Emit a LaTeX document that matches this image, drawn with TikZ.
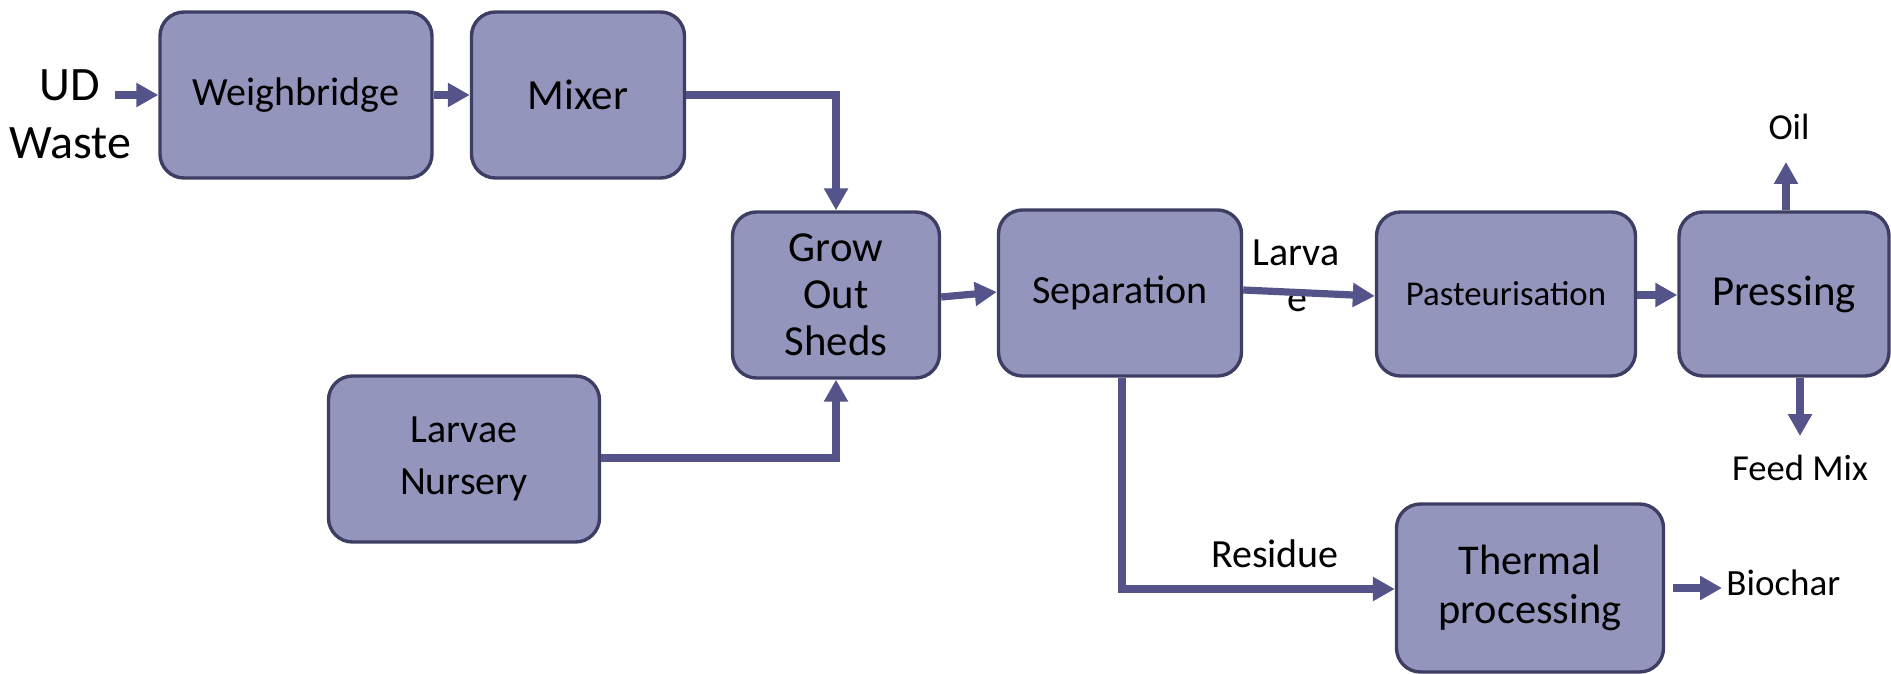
\documentclass[tikz,border=0pt]{standalone}
\usepackage{fontspec}
\setmainfont{Carlito}
\usetikzlibrary{arrows.meta}
\definecolor{boxfill}{RGB}{148,149,189}
\definecolor{boxline}{RGB}{62,62,100}
\definecolor{arrowcol}{RGB}{84,84,138}
\tikzset{
  procbox/.style={draw=boxline, fill=boxfill, line width=1.7pt, rounded corners=12pt,
    inner sep=0pt, align=center, font=\fontsize{20}{24}\selectfont},
  flow/.style={draw=arrowcol, line width=3.6pt, -{Triangle[length=11pt,width=11.5pt]}},
  lbl/.style={inner sep=0pt, align=center, font=\fontsize{18.3}{22}\selectfont}
}
\begin{document}
\begin{tikzpicture}[x=0.5pt,y=-0.5pt]
\useasboundingbox (0,0) rectangle (1891,674);
% boxes
\node[procbox, minimum width=136pt, minimum height=83pt] (wb) at (296,95) {Weighbridge};
\node[procbox, minimum width=106.5pt, minimum height=83pt, font=\fontsize{21.5}{24}\selectfont] (mix) at (578,95) {Mixer};
\node[procbox, minimum width=103.5pt, minimum height=83pt, font=\fontsize{21.4}{23.5}\selectfont] (grow) at (836,295) {Grow\\Out\\Sheds};
\node[procbox, minimum width=135.5pt, minimum height=83pt, font=\fontsize{20}{26}\selectfont] (nur) at (464,459) {Larvae\\Nursery};
\node[procbox, minimum width=121.5pt, minimum height=83pt] (sep) at (1120,293) {Separation};
\node[procbox, minimum width=129.5pt, minimum height=82pt, font=\fontsize{17.4}{20}\selectfont] (past) at (1506,294) {Pasteurisation};
\node[procbox, minimum width=105pt, minimum height=82pt, font=\fontsize{21.4}{24}\selectfont] (press) at (1784,294) {Pressing};
\node[procbox, minimum width=133.5pt, minimum height=84pt, font=\fontsize{21.2}{24.5}\selectfont] (therm) at (1530,588) {Thermal\\processing};
% free labels
\node[lbl, font=\fontsize{24}{29}\selectfont] (ud) at (70,114) {UD\\Waste};
\node[lbl] (oil) at (1789,127) {Oil};
\node[lbl] (feed) at (1800,468) {Feed Mix};
\node[lbl, anchor=west, font=\fontsize{18.5}{22}\selectfont] (bio) at (1726,583) {Biochar};
\node[lbl, font=\fontsize{20}{23}\selectfont] (larva) at (1296,276) {Larva\\\hspace*{1pt}e};
\node[lbl, font=\fontsize{20}{24}\selectfont] (res) at (1275,554) {Residue};
% connectors
\coordinate (udend) at (115,95);
\coordinate (oilend) at (1786,162);
\coordinate (feedend) at (1800,436);
\coordinate (bioend) at (1722,588);
\draw[flow] (udend) -- (wb.west |- udend);
\draw[flow] (wb.east |- 0,95) -- (mix.west |- 0,95);
\draw[flow] (mix.east |- 0,95) -| (grow.north);
\draw[flow] (nur.east |- 0,458) -| (grow.south);
\draw[flow] (grow.east |- 0,297) -- (sep.west |- 0,292);
\draw[flow] (sep.east |- 0,290) -- (past.west |- 0,296);
\draw[flow] (past.east |- 0,295) -- (press.west |- 0,295);
\draw[flow] (press.north -| oilend) -- (oilend);
\draw[flow] (press.south -| feedend) -- (feedend);
\draw[flow] (sep.south -| 1122,0) |- (therm.west |- 0,589);
\draw[flow] (1673,588) -- (bioend);
\end{tikzpicture}
\end{document}
